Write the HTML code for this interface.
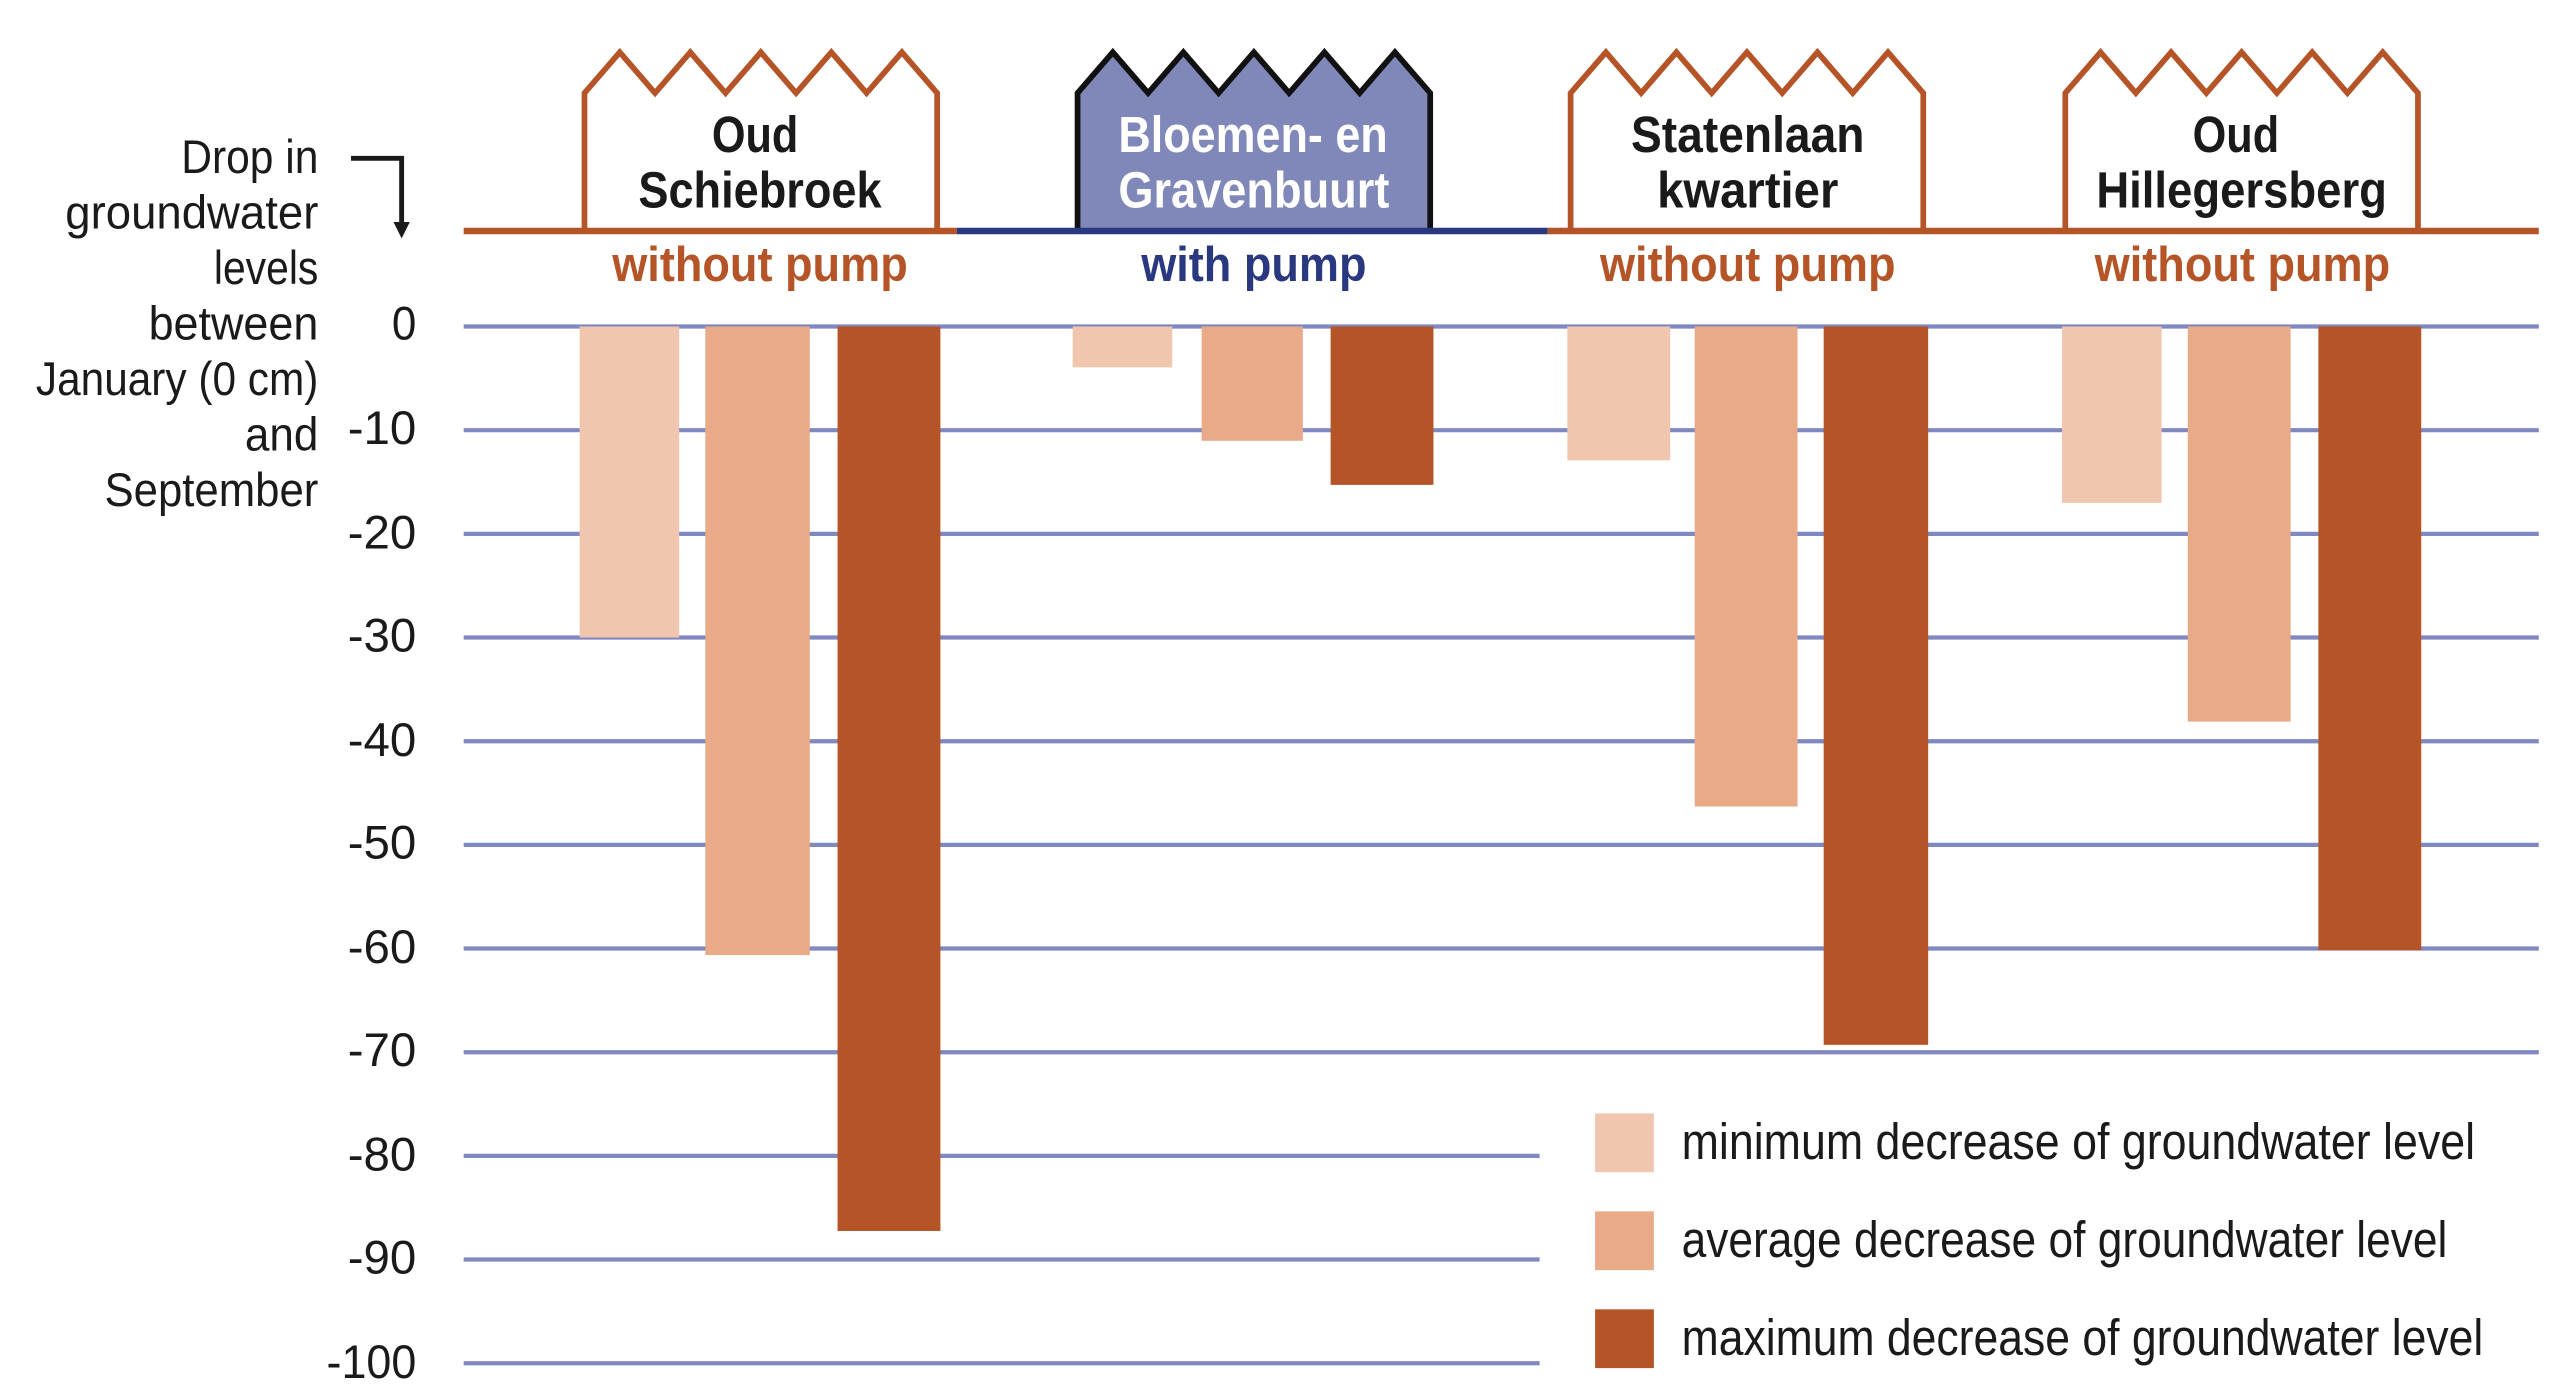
<!DOCTYPE html>
<html><head><meta charset="utf-8"><style>
html,body{margin:0;padding:0;background:#fff}
svg{display:block}
text{font-family:"Liberation Sans Narrow","Liberation Sans",sans-serif}
</style></head><body>
<svg width="2560" height="1397" viewBox="0 0 1568 855.7" preserveAspectRatio="none" xmlns="http://www.w3.org/2000/svg">
<g stroke="#7f88c0" stroke-width="2.6">
<line x1="284" x2="1555" y1="200" y2="200"/>
<line x1="284" x2="1555" y1="263.5" y2="263.5"/>
<line x1="284" x2="1555" y1="327" y2="327"/>
<line x1="284" x2="1555" y1="390.5" y2="390.5"/>
<line x1="284" x2="1555" y1="454" y2="454"/>
<line x1="284" x2="1555" y1="517.5" y2="517.5"/>
<line x1="284" x2="1555" y1="581" y2="581"/>
<line x1="284" x2="1555" y1="644.5" y2="644.5"/>
<line x1="284" x2="943" y1="708" y2="708"/>
<line x1="284" x2="943" y1="771.5" y2="771.5"/>
<line x1="284" x2="943" y1="835" y2="835"/>
</g>
<g font-size="29" fill="#1a1a1a" lengthAdjust="spacingAndGlyphs">
<text x="240" y="208" textLength="15" lengthAdjust="spacingAndGlyphs">0</text>
<text x="213" y="272" textLength="42" lengthAdjust="spacingAndGlyphs">-10</text>
<text x="213" y="336" textLength="42" lengthAdjust="spacingAndGlyphs">-20</text>
<text x="213" y="399" textLength="42" lengthAdjust="spacingAndGlyphs">-30</text>
<text x="213" y="463" textLength="42" lengthAdjust="spacingAndGlyphs">-40</text>
<text x="213" y="526" textLength="42" lengthAdjust="spacingAndGlyphs">-50</text>
<text x="213" y="590" textLength="42" lengthAdjust="spacingAndGlyphs">-60</text>
<text x="213" y="653" textLength="42" lengthAdjust="spacingAndGlyphs">-70</text>
<text x="213" y="717" textLength="42" lengthAdjust="spacingAndGlyphs">-80</text>
<text x="213" y="780" textLength="42" lengthAdjust="spacingAndGlyphs">-90</text>
<text x="200" y="844" textLength="55" lengthAdjust="spacingAndGlyphs">-100</text>
</g>
<g font-size="29" fill="#1a1a1a">
<text x="111" y="106" textLength="84" lengthAdjust="spacingAndGlyphs">Drop in</text>
<text x="40" y="140" textLength="155" lengthAdjust="spacingAndGlyphs">groundwater</text>
<text x="131" y="174" textLength="64" lengthAdjust="spacingAndGlyphs">levels</text>
<text x="91" y="208" textLength="104" lengthAdjust="spacingAndGlyphs">between</text>
<text x="22" y="242" textLength="173" lengthAdjust="spacingAndGlyphs">January (0 cm)</text>
<text x="150" y="276" textLength="45" lengthAdjust="spacingAndGlyphs">and</text>
<text x="64" y="310" textLength="131" lengthAdjust="spacingAndGlyphs">September</text>
</g>
<path d="M215 97 H246 V142" fill="none" stroke="#1a1a1a" stroke-width="3"/>
<path d="M241 136 L246 146 L251 136 Z" fill="#1a1a1a"/>
<g>
<rect x="355" y="200" width="61" height="190.5" fill="#f0c6ae"/>
<rect x="432" y="200" width="64" height="385" fill="#e9aa87"/>
<rect x="513" y="200" width="63" height="554" fill="#b55527"/>
<rect x="657" y="200" width="61" height="25" fill="#f0c6ae"/>
<rect x="736" y="200" width="62" height="70" fill="#e9aa87"/>
<rect x="815" y="200" width="63" height="97" fill="#b55527"/>
<rect x="960" y="200" width="63" height="82" fill="#f0c6ae"/>
<rect x="1038" y="200" width="63" height="294" fill="#e9aa87"/>
<rect x="1117" y="200" width="64" height="440" fill="#b55527"/>
<rect x="1263" y="200" width="61" height="108" fill="#f0c6ae"/>
<rect x="1340" y="200" width="63" height="242" fill="#e9aa87"/>
<rect x="1420" y="200" width="63" height="382" fill="#b55527"/>
</g>
<g fill="#fff" stroke="#b55527" stroke-width="3.5">
<path d="M358 141 V57 L379.6 32 L401.2 57 L422.8 32 L444.4 57 L466 32 L487.6 57 L509.2 32 L530.8 57 L552.4 32 L574 57 V141"/>
<path d="M962 141 V57 L983.6 32 L1005.2 57 L1026.8 32 L1048.4 57 L1070 32 L1091.6 57 L1113.2 32 L1134.8 57 L1156.4 32 L1178 57 V141"/>
<path d="M1265 141 V57 L1286.6 32 L1308.2 57 L1329.8 32 L1351.4 57 L1373 32 L1394.6 57 L1416.2 32 L1437.8 57 L1459.4 32 L1481 57 V141"/>
</g>
<path d="M660 141 V57 L681.6 32 L703.2 57 L724.8 32 L746.4 57 L768 32 L789.6 57 L811.2 32 L832.8 57 L854.4 32 L876 57 V141" fill="#7f88b8" stroke="#111" stroke-width="3.5"/>
<line x1="284" x2="586" y1="141.5" y2="141.5" stroke="#b55527" stroke-width="4"/>
<line x1="586" x2="948" y1="141.5" y2="141.5" stroke="#2a3880" stroke-width="4"/>
<line x1="948" x2="1555" y1="141.5" y2="141.5" stroke="#b55527" stroke-width="4"/>
<g font-size="31" font-weight="bold" fill="#1a1a1a">
<text x="436" y="93" textLength="53" lengthAdjust="spacingAndGlyphs">Oud</text>
<text x="391" y="127" textLength="149" lengthAdjust="spacingAndGlyphs">Schiebroek</text>
<text x="685" y="93" fill="#fff" textLength="165" lengthAdjust="spacingAndGlyphs">Bloemen- en</text>
<text x="685" y="127" fill="#fff" textLength="166" lengthAdjust="spacingAndGlyphs">Gravenbuurt</text>
<text x="999" y="93" textLength="143" lengthAdjust="spacingAndGlyphs">Statenlaan</text>
<text x="1015" y="127" textLength="111" lengthAdjust="spacingAndGlyphs">kwartier</text>
<text x="1343" y="93" textLength="53" lengthAdjust="spacingAndGlyphs">Oud</text>
<text x="1284" y="127" textLength="178" lengthAdjust="spacingAndGlyphs">Hillegersberg</text>
</g>
<g font-size="30" font-weight="bold">
<text x="375" y="172" fill="#b55527" textLength="181" lengthAdjust="spacingAndGlyphs">without pump</text>
<text x="699" y="172" fill="#2a3880" textLength="138" lengthAdjust="spacingAndGlyphs">with pump</text>
<text x="980" y="172" fill="#b55527" textLength="181" lengthAdjust="spacingAndGlyphs">without pump</text>
<text x="1283" y="172" fill="#b55527" textLength="181" lengthAdjust="spacingAndGlyphs">without pump</text>
</g>
<rect x="977" y="682" width="36" height="36" fill="#f0c6ae"/>
<rect x="977" y="742" width="36" height="36" fill="#e9aa87"/>
<rect x="977" y="802" width="36" height="36" fill="#b55527"/>
<g font-size="31" fill="#1a1a1a">
<text x="1030" y="710" textLength="486" lengthAdjust="spacingAndGlyphs">minimum decrease of groundwater level</text>
<text x="1030" y="770" textLength="469" lengthAdjust="spacingAndGlyphs">average decrease of groundwater level</text>
<text x="1030" y="830" textLength="491" lengthAdjust="spacingAndGlyphs">maximum decrease of groundwater level</text>
</g>
</svg>
</body></html>
